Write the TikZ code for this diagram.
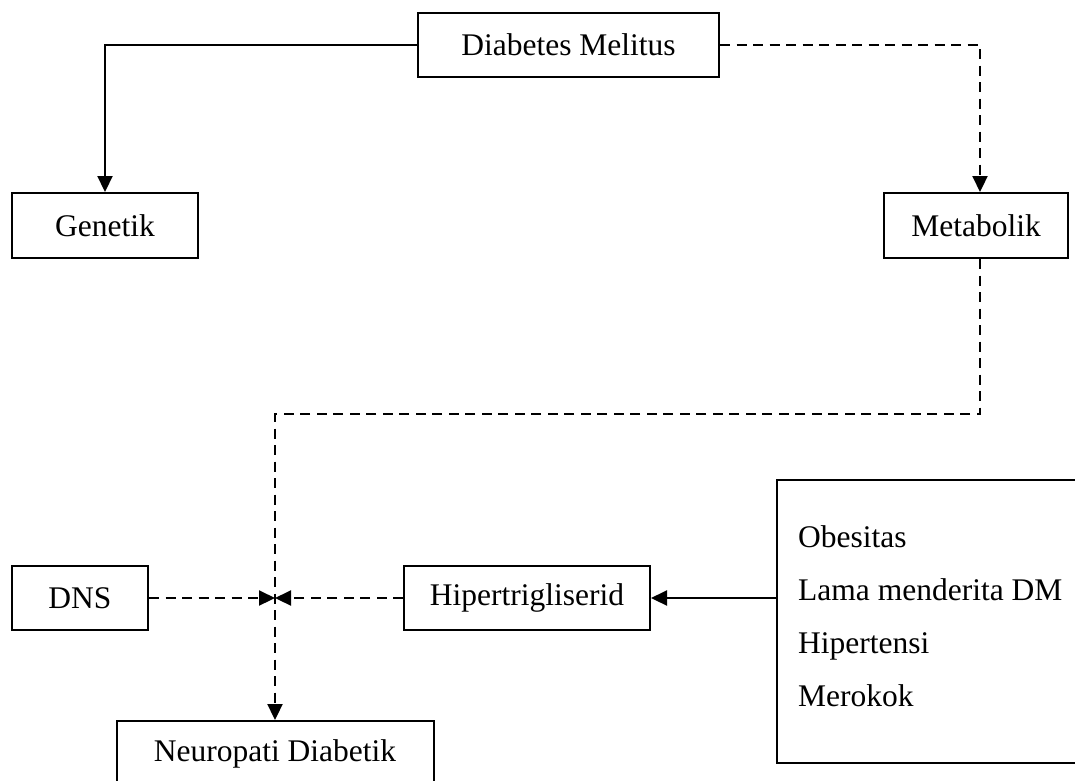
\documentclass[tikz,border=0pt]{standalone}
\usepackage{fontspec}
\setmainfont{Liberation Serif}
\usetikzlibrary{arrows.meta}
\begin{document}
\begin{tikzpicture}[x=1pt,y=-1pt,
  box/.style={draw, line width=2pt, inner sep=0pt, font=\fontsize{31.5}{38}\selectfont},
  lbl/.style={inner sep=0pt, anchor=base west, font=\fontsize{31.5}{38}\selectfont},
  conn/.style={line width=2.2pt},
  dsh/.style={conn, dash pattern=on 10pt off 6.5pt},
  tip/.style={-{Triangle[length=16pt,width=15pt]}}]
\useasboundingbox (0,0) rectangle (1075,780);
\clip (0,0) rectangle (1075,780);
\fill[white] (0,0) rectangle (1075,780);
\node[box, minimum width=301pt, minimum height=64pt] (dm) at (568.5,45) {Diabetes Melitus};
\node[box, minimum width=186pt, minimum height=65pt] (gen) at (105,225.5) {Genetik};
\node[box, minimum width=184pt, minimum height=65pt] (met) at (976,225.5) {Metabolik};
\node[box, minimum width=136pt, minimum height=64pt] (dns) at (80,598) {DNS};
\node[box, minimum width=246pt, minimum height=64pt] (hip) at (527,598) {Hipertrigliserid};
\node[box, minimum width=317pt, minimum height=66pt] (nd) at (275,754) {Neuropati Diabetik};
\node[box, minimum width=310pt, minimum height=283pt] (fac) at (932,621.5) {};
\node[lbl] (f1) at (798,547) {Obesitas};
\node[lbl] (f2) at (798,600) {Lama menderita DM};
\node[lbl] (f3) at (798,653) {Hipertensi};
\node[lbl] (f4) at (798,706) {Merokok};
\coordinate (j) at (nd.north |- hip.west);
\coordinate (mt) at ([xshift=4pt]met.north);
\coordinate (mb) at ([xshift=4pt]met.south);
\draw[conn, tip] (dm.west) -| (gen.north);
\draw[dsh, tip] (dm.east) -| (mt);
\draw[dsh, tip] (mb) -- ++(0,155) -| (nd.north);
\draw[dsh, tip] (dns.east) -- (j);
\draw[dsh, tip] (hip.west) -- (j);
\draw[conn, tip] (fac.west |- hip.east) -- (hip.east);
\end{tikzpicture}
\end{document}
